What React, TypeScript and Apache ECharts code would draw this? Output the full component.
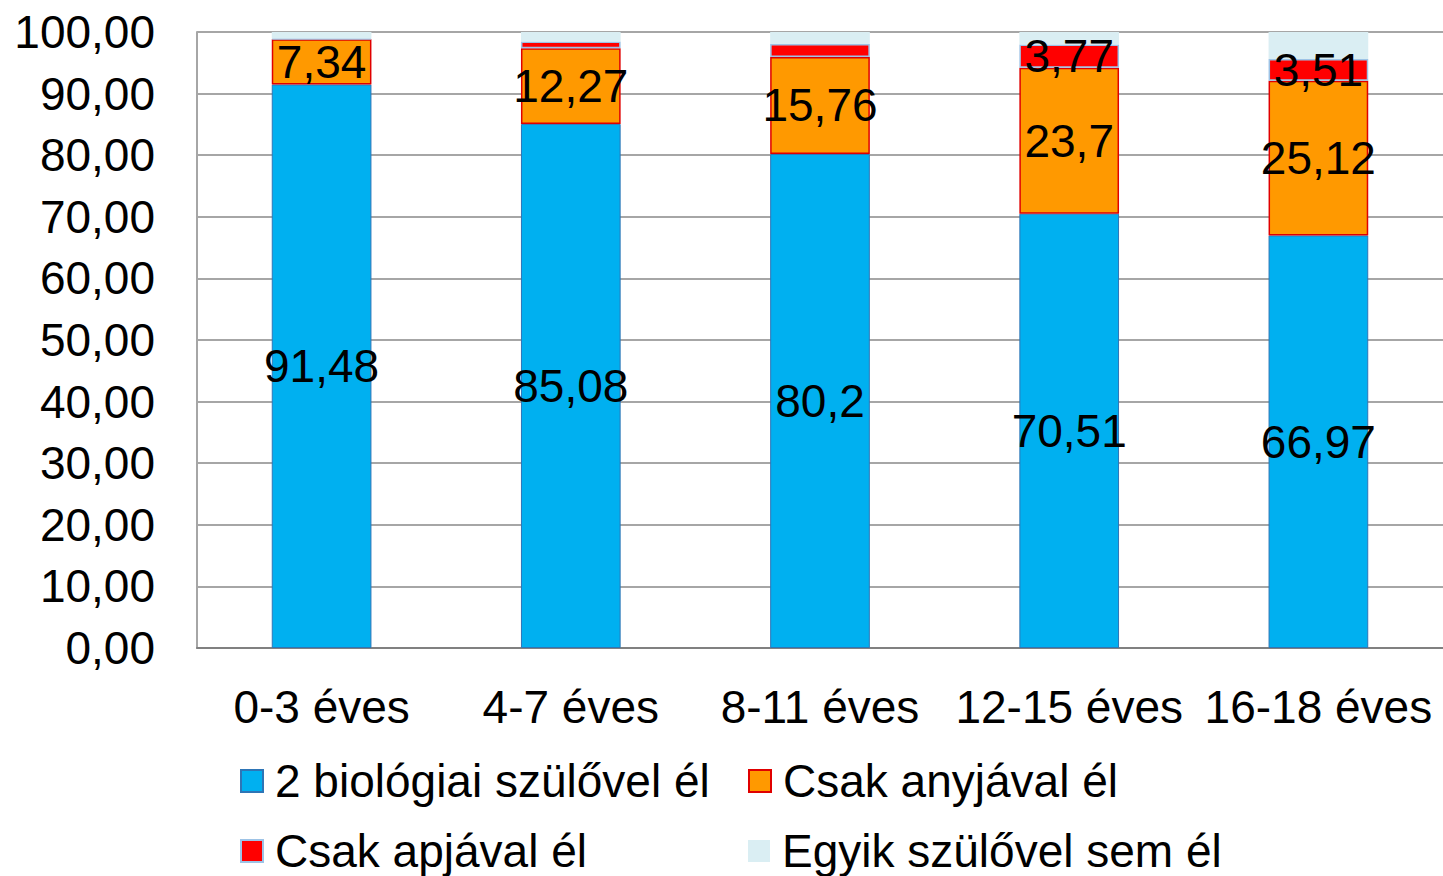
import React, { useEffect, useRef } from "react";
import * as echarts from "echarts";

const categories = ["0-3 éves", "4-7 éves", "8-11 éves", "12-15 éves", "16-18 éves"];
const seriesNames = [
  "2 biológiai szülővel él",
  "Csak anyjával él",
  "Csak apjával él",
  "Egyik szülővel sem él",
];
const both = [91.48, 85.08, 80.2, 70.51, 66.97];
const motherOnly = [7.34, 12.27, 15.76, 23.7, 25.12];
const fatherOnly = [0.12, 1.1, 2.1, 3.77, 3.51];
const neither = [1.06, 1.55, 1.94, 2.02, 4.4];
const fatherLabelShown = [false, false, false, true, true];
const yTicks = [0, 10, 20, 30, 40, 50, 60, 70, 80, 90, 100];

const FONT = "Liberation Sans, Arial, sans-serif";
const FS = 46;

const fmt = (v: number) => String(v).replace(".", ",");

export default function App() {
  const ref = useRef<HTMLDivElement>(null);
  useEffect(() => {
    document.body.style.margin = "0";
    const chart = echarts.init(ref.current!, null, { renderer: "svg" });
    const label = {
      show: true,
      position: "inside",
      color: "#000",
      fontSize: FS,
      fontFamily: FONT,
      formatter: (p: any) => fmt(p.value),
    };
    const legendBase = {
      itemWidth: 22,
      itemHeight: 22,
      icon: "rect",
      itemGap: 10,
      padding: 0,
      textStyle: { fontSize: FS, fontFamily: FONT, color: "#000", padding: [0, 0, 0, 7] },
    };
    chart.setOption({
      animation: false,
      textStyle: { fontFamily: FONT },
      grid: { left: 197, top: 32, width: 1250, height: 616, containLabel: false },
      legend: [
        { ...legendBase, data: [seriesNames[0]], left: 240, top: 758 },
        { ...legendBase, data: [seriesNames[1]], left: 748, top: 758 },
        { ...legendBase, data: [seriesNames[2]], left: 240, top: 828 },
        { ...legendBase, data: [seriesNames[3]], left: 748, top: 828 },
      ],
      xAxis: {
        type: "category",
        data: categories,
        axisLine: { show: true, lineStyle: { color: "#808080", width: 2 } },
        axisTick: { show: false },
        axisLabel: { interval: 0, fontSize: FS, fontFamily: FONT, color: "#000", margin: 36 },
      },
      yAxis: {
        type: "value",
        min: yTicks[0],
        max: yTicks[yTicks.length - 1],
        interval: 10,
        axisLine: { show: true, lineStyle: { color: "#a6a6a6", width: 2 } },
        axisTick: { show: false },
        splitLine: { lineStyle: { color: "#a6a6a6", width: 2 } },
        axisLabel: {
          fontSize: FS,
          fontFamily: FONT,
          color: "#000",
          margin: 42,
          formatter: (v: number) => v.toFixed(2).replace(".", ","),
        },
      },
      series: [
        {
          name: seriesNames[0],
          type: "bar",
          stack: "a",
          barWidth: "40%",
          data: both,
          itemStyle: { color: "#00B0F0", borderColor: "#2E75B6", borderWidth: 1 },
          label,
        },
        {
          name: seriesNames[1],
          type: "bar",
          stack: "a",
          data: motherOnly,
          itemStyle: { color: "#FF9900", borderColor: "#E00000", borderWidth: 1.5 },
          label,
        },
        {
          name: seriesNames[2],
          type: "bar",
          stack: "a",
          data: fatherOnly.map((v, i) => ({ value: v, label: { show: fatherLabelShown[i] } })),
          itemStyle: { color: "#FF0000", borderColor: "#9DC3E6", borderWidth: 1.5 },
          label,
        },
        {
          name: seriesNames[3],
          type: "bar",
          stack: "a",
          data: neither,
          itemStyle: { color: "#DAEEF3" },
          label: { show: false },
        },
      ],
    });
    return () => chart.dispose();
  }, []);
  return <div ref={ref} style={{ width: 1443, height: 876 }} />;
}
